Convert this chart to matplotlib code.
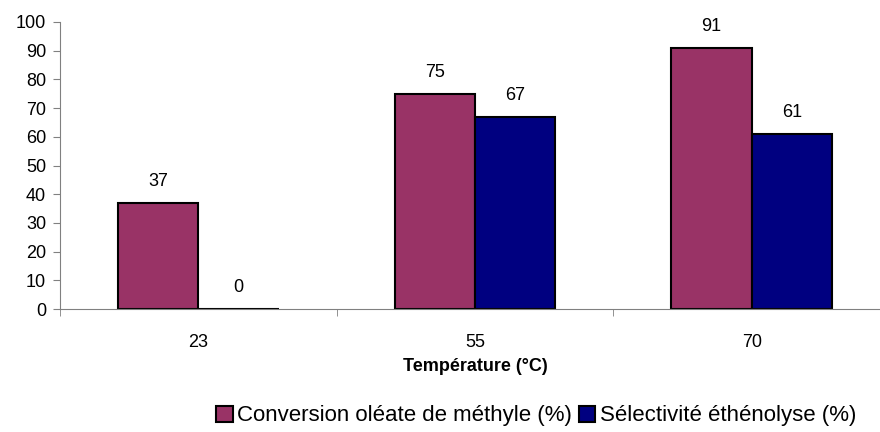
import matplotlib
matplotlib.use("Agg")
import matplotlib.pyplot as plt
import numpy as np

temperatures = ['23', '55', '70']
conversion = [37, 75, 91]
selectivite = [0, 67, 61]

plt.rcParams['font.family'] = ['Liberation Sans', 'DejaVu Sans']

fig = plt.figure(figsize=(8.8, 4.32), dpi=100)
# plot area runs slightly past the right edge, as in the original
ax = fig.add_axes([60/880, 1 - 309/432, 830/880, 287/432])

x = np.arange(len(temperatures))
w = 0.29
b1 = ax.bar(x - w/2, conversion, w, color='#993366', edgecolor='black', linewidth=1.5,
            label='Conversion oléate de méthyle (%)')
b2 = ax.bar(x + w/2, selectivite, w, color='#000080', edgecolor='black', linewidth=1.5,
            label='Sélectivité éthénolyse (%)')

for bars, vals in ((b1, conversion), (b2, selectivite)):
    for r, v in zip(bars, vals):
        ax.text(r.get_x() + r.get_width()/2, v + 4.5, str(v), ha='center', va='bottom', fontsize=13)

ax.set_xlim(-0.5, 2.5)
ax.set_ylim(0, 100)
ax.set_yticks(range(0, 101, 10))
ax.tick_params(axis='y', labelsize=13, direction='out', length=5, color='#808080', pad=5)
ax.set_xticks(x)
ax.set_xticklabels(temperatures, fontsize=13)
ax.tick_params(axis='x', length=0, pad=18)
ax.set_xticks([-0.5, 0.5, 1.5, 2.5], minor=True)
ax.tick_params(axis='x', which='minor', length=5, color='#808080', direction='out')

for s in ['top', 'right']:
    ax.spines[s].set_visible(False)
for s in ['left', 'bottom']:
    ax.spines[s].set_color('#808080')

ax.set_xlabel('Température (°C)', fontsize=13, fontweight='bold', labelpad=5)

fig.legend(loc='center', bbox_to_anchor=(536/880, 1 - 416/432), ncol=2, frameon=False,
           fontsize=16, handlelength=0.75, handleheight=0.75, handletextpad=0.2,
           columnspacing=0.3)

plt.savefig('out.png', dpi=100)
